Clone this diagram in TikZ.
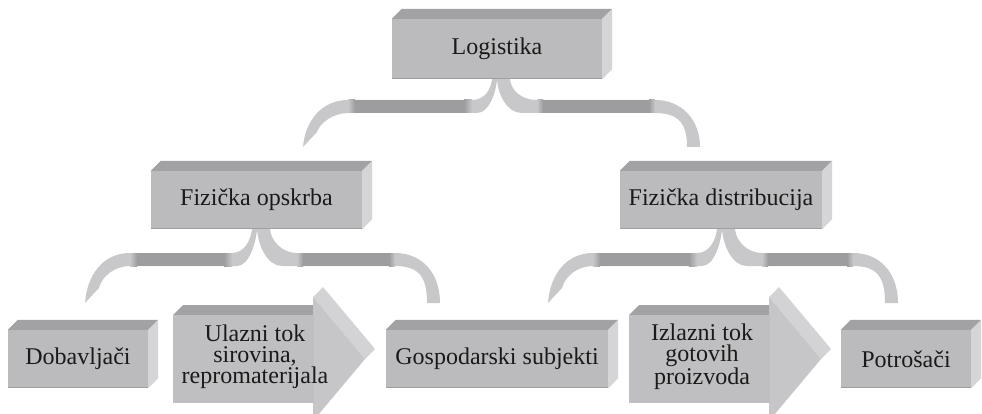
\documentclass[tikz,border=0pt]{standalone}
\usepackage{fontspec}
\setmainfont{Liberation Serif}
\definecolor{frontc}{HTML}{BBBBBD}
\definecolor{topc}{HTML}{A2A2A4}
\definecolor{sidec}{HTML}{D5D5D7}
\definecolor{arrowc}{HTML}{BFBFC1}
\definecolor{headc}{HTML}{C6C6C8}
\definecolor{headside}{HTML}{D3D3D5}
\definecolor{ribl}{HTML}{C8C8CA}
\definecolor{ribd}{HTML}{9D9D9F}
\definecolor{txt}{HTML}{1A1A1A}
\tikzset{
  boxfront/.style={fill=frontc, inner sep=0pt, text=txt, font=\fontsize{24}{21}\selectfont, align=center},
  txtnode/.style={inner sep=0pt, text=txt, font=\fontsize{24}{21}\selectfont, align=center},
}
% 3D faces of a box node: #1 name
\newcommand\boxfaces[1]{%
  \fill[topc] (#1.north west) -- ++(10,-10) -- ([xshift=10pt,yshift=10pt]#1.north east) -- (#1.north east) -- cycle;
  \fill[sidec] (#1.north east) -- ++(10,-10) -- ([xshift=10pt,yshift=10pt]#1.south east) -- (#1.south east) -- cycle;
  \draw[frontc!85!black, line width=1pt] ([yshift=0.5pt]#1.south west) -- ([yshift=0.5pt]#1.south east);
}
% 3D arrow: #1 body left x, #2 centre y
\newcommand\arrowshape[2]{%
  \begin{scope}[shift={(#1,#2)}]
    \fill[topc] (0,-44) -- (10,-54) -- (150,-54) -- (140,-44) -- cycle;
    \fill[headside] (140,-62) -- (150,-72) -- (202,-10) -- (192,0) -- cycle;
    \fill[arrowc] (0,-44) rectangle (140,44);
    \fill[headc] (140,-62) -- (192,0) -- (140,62) -- cycle;
    \fill[arrowc] (140,-44) rectangle (141,44);
  \end{scope}
}
% ribbon brace: #1 L, #2 C, #3 R, #4 band top y, #5 tip y, #6 cusp y
\newcommand\bracerib[6]{%
  \fill[ribl] (#1,#5) .. controls ({#1+2},{#4+22}) and ({#1+18},#4) .. ({#1+45},#4)
    -- ({#2-25},#4) .. controls ({#2-12},#4) and ({#2-6},{#6+10}) .. ({#2-5},#6)
    -- (#2,#6) .. controls ({#2-1},{#6+14}) and ({#2-8},{#4+13}) .. ({#2-20},{#4+13})
    -- ({#1+45},{#4+13}) .. controls ({#1+30},{#4+13}) and ({#1+17},{#4+23}) .. ({#1+14},{#5-15})
    -- cycle;
  \fill[ribl] (#2,#6) .. controls ({#2+1},{#6+16}) and ({#2+10},{#4+13}) .. ({#2+25},{#4+13})
    -- ({#3-45},{#4+13}) .. controls ({#3-20},{#4+13}) and ({#3-13},{#4+25}) .. ({#3-13},#5)
    -- (#3,#5) .. controls (#3,{#4+20}) and ({#3-18},#4) .. ({#3-45},#4)
    -- ({#2+40},#4) .. controls ({#2+25},#4) and ({#2+14},{#6+12}) .. ({#2+13},#6)
    -- cycle;
  \shade[left color=ribl, right color=ribd] ({#1+45},#4) rectangle ({#1+52},{#4+13});
  \fill[ribd] ({#1+52},#4) rectangle ({#2-33},{#4+13});
  \shade[left color=ribd, right color=ribl] ({#2-33},#4) rectangle ({#2-25},{#4+13});
  \shade[left color=ribl, right color=ribd] ({#2+40},#4) rectangle ({#2+46},{#4+13});
  \fill[ribd] ({#2+46},#4) rectangle ({#3-51},{#4+13});
  \shade[left color=ribd, right color=ribl] ({#3-51},#4) rectangle ({#3-45},{#4+13});
}
\begin{document}
\begin{tikzpicture}[x=1pt,y=-1pt]
\useasboundingbox (0,0) rectangle (982,414);
\clip (0,0) rectangle (982,414);
\fill[white] (0,0) rectangle (982,414);

% braces
\bracerib{303}{497}{700}{100}{147}{79}
\bracerib{85}{257}{440}{253}{303}{229}
\bracerib{548}{722}{898}{253}{303}{229}

% top boxes
\node[boxfront, minimum width=210pt, minimum height=60pt] (log) at (497,49) {Logistika};
\boxfaces{log}
\node[boxfront, minimum width=211pt, minimum height=58pt] (ops) at (256.5,200) {Fizička opskrba};
\boxfaces{ops}
\node[boxfront, minimum width=202pt, minimum height=58pt] (dis) at (721,200) {Fizička distribucija};
\boxfaces{dis}

% bottom row
\node[boxfront, minimum width=140pt, minimum height=58pt] (dob) at (78,359) {Dobavljači};
\boxfaces{dob}
\arrowshape{173}{359}
\node[txtnode] (ulaz) at (255,357) {Ulazni tok\\sirovina,\\repromaterijala};
\node[boxfront, minimum width=222pt, minimum height=58pt] (gos) at (497,359) {Gospodarski subjekti};
\boxfaces{gos}
\arrowshape{629}{359}
\node[txtnode] (izl) at (702,357) {Izlazni tok\\gotovih\\proizvoda};
\node[boxfront, minimum width=130pt, minimum height=58pt] (pot) at (906,359) {Potrošači};
\boxfaces{pot}
\end{tikzpicture}
\end{document}
